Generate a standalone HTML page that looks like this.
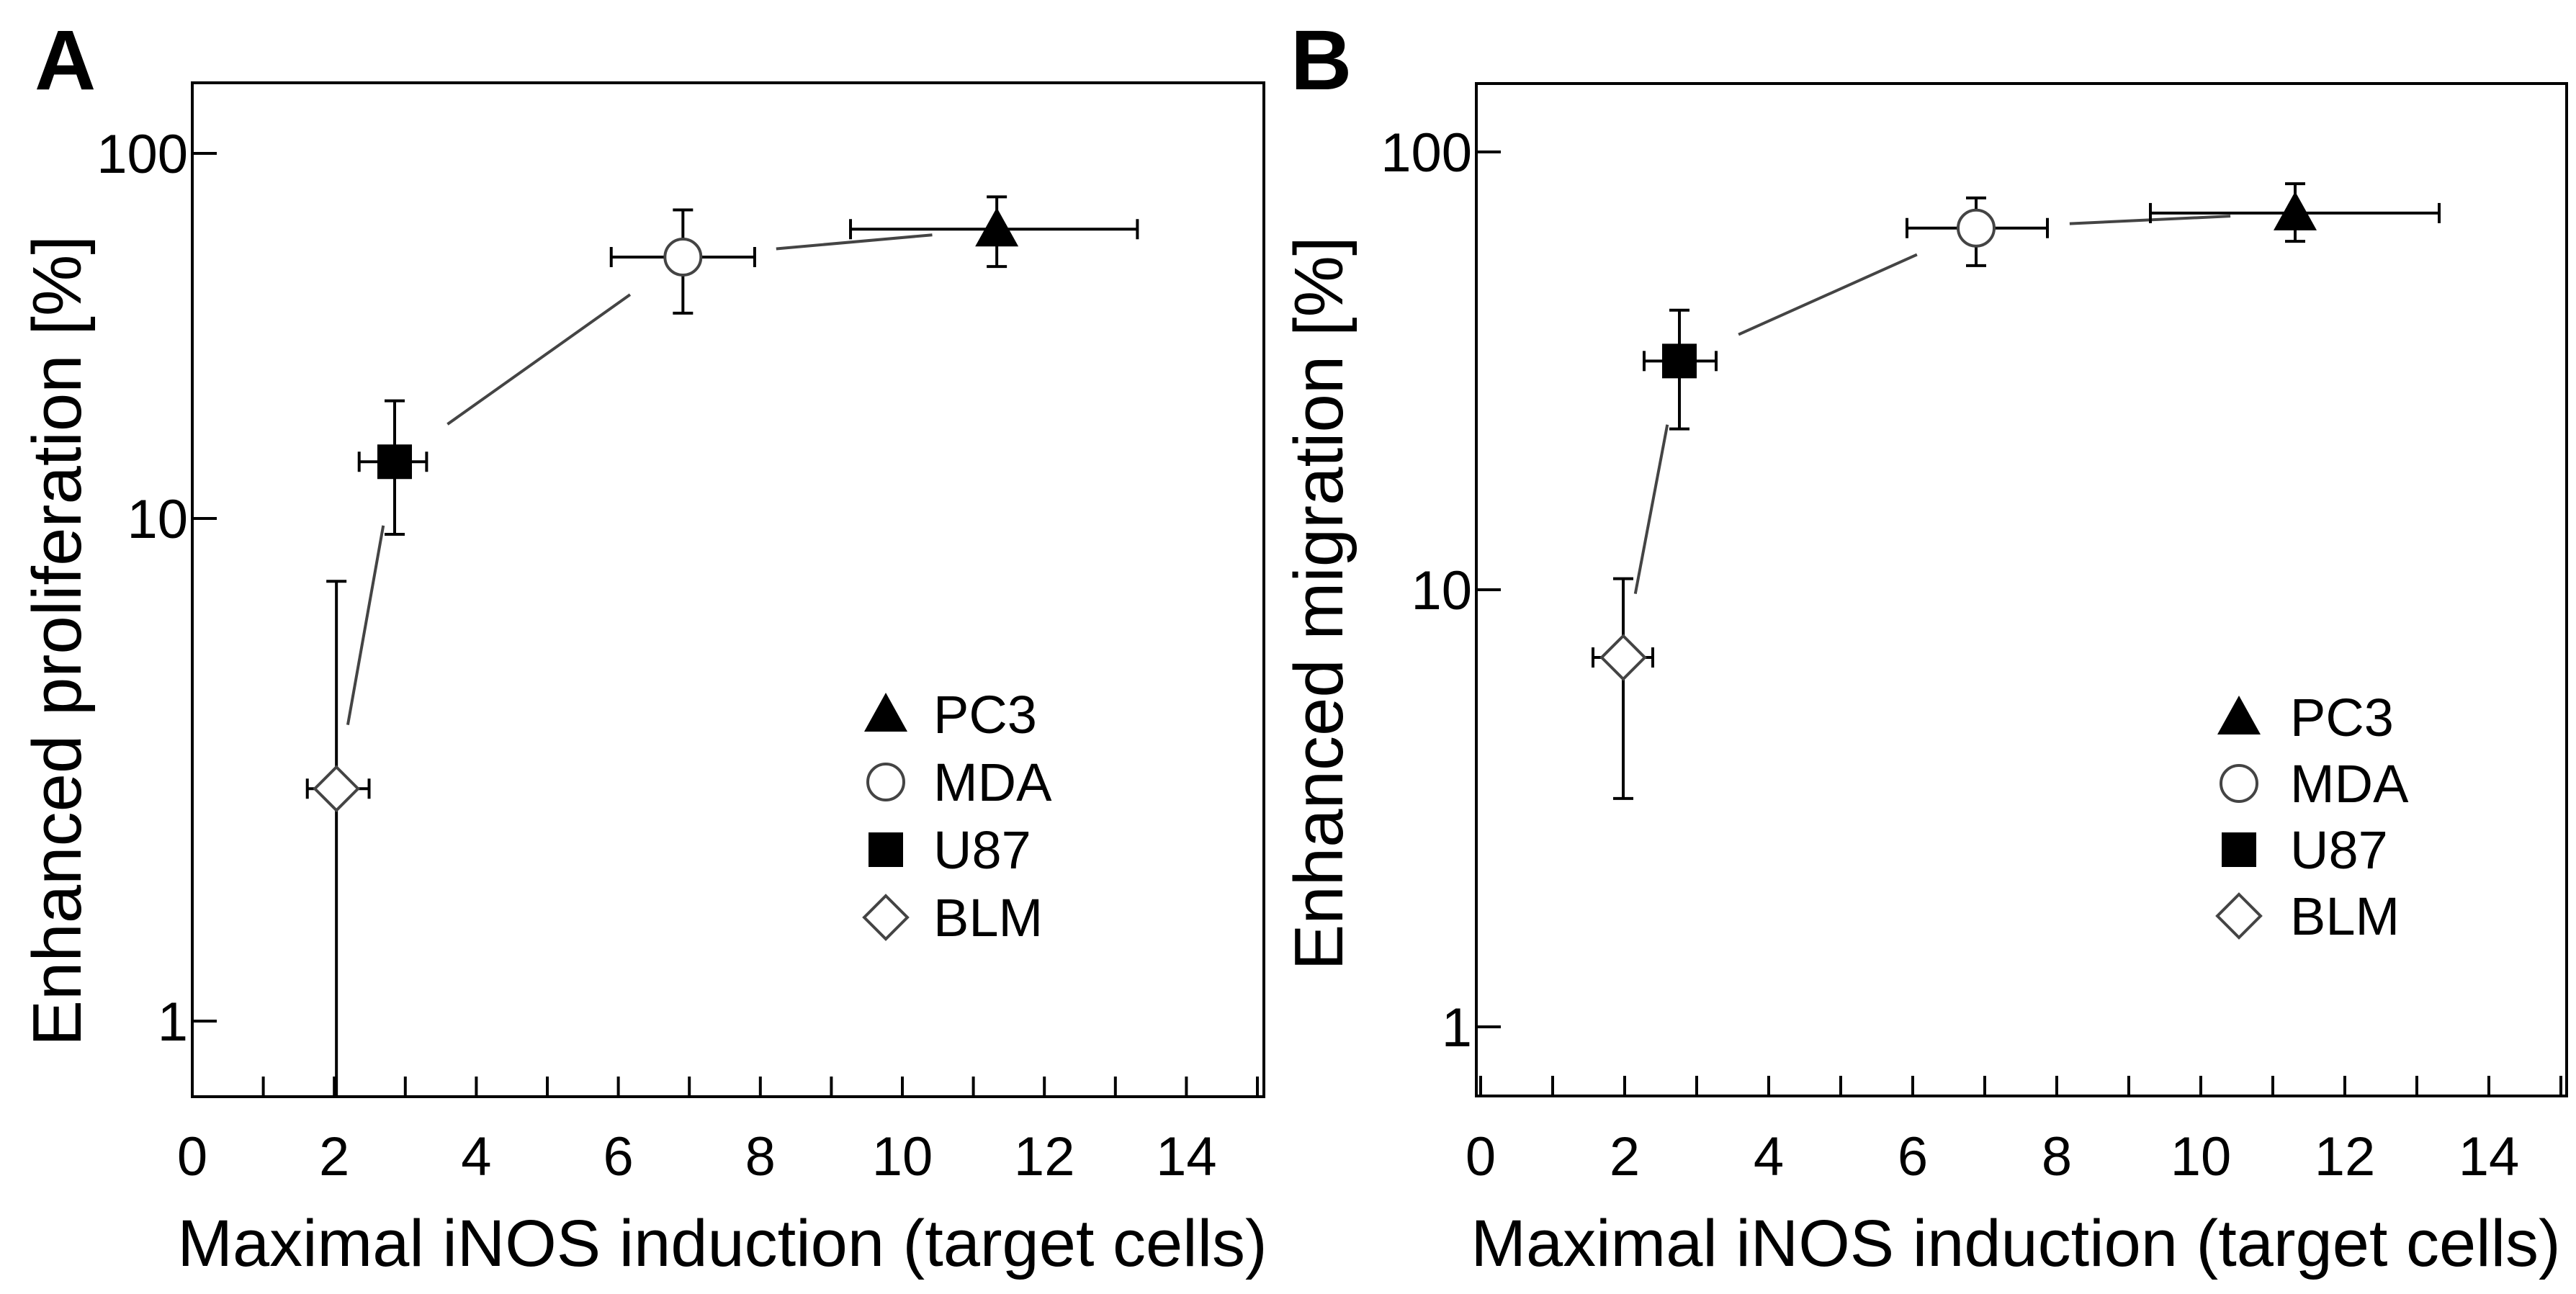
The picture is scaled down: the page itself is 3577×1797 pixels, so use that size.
<!DOCTYPE html>
<html><head><meta charset="utf-8"><style>
html,body{margin:0;padding:0;background:#fff;}
svg{display:block;font-family:"Liberation Sans",Arial,sans-serif;}
</style></head><body>
<svg id="fig" width="3577" height="1797" viewBox="0 0 3577 1797"></svg>
<script>
// ---- data ----
const cellLines = ["PC3","MDA","U87","BLM"];
const xTicks = [0,2,4,6,8,10,12,14];
const yTicks = [1,10,100];
// Panel A: proliferation
const aX = [11.33, 6.91, 2.85, 2.03];
const aXlo = [9.27, 5.9, 2.35, 1.62];
const aXhi = [13.31, 7.92, 3.3, 2.49];
const aY = [62, 52, 14.3, 2.9];
const aYlo = [49, 36.5, 9.3, 0.5];
const aYhi = [76, 70, 21, 7.5];
// Panel B: migration
const bX = [11.31, 6.88, 2.76, 1.98];
const bXlo = [9.3, 5.92, 2.27, 1.56];
const bXhi = [13.31, 7.87, 3.27, 2.39];
const bY = [72.5, 67, 33.3, 7.0];
const bYlo = [62.5, 55, 23.3, 3.33];
const bYhi = [84.6, 78.5, 43.5, 10.6];

const NS="http://www.w3.org/2000/svg";
const svg=document.getElementById('fig');
function mk(tag,attrs,parent){const e=document.createElementNS(NS,tag);for(const k in attrs)e.setAttribute(k,attrs[k]);(parent||svg).appendChild(e);return e;}

function panel(cfg){
  const g=mk('g',{});
  
  
  const L=cfg.left,R=cfg.right,T=cfg.top,B=cfg.bottom;
  const xs=v=>cfg.x0+v*cfg.xu;
  const anch=cfg.anchors;
  const ys=v=>{const l=Math.log10(v);
    if(l<=1) return anch[0]+(anch[1]-anch[0])*l;
    return anch[1]+(anch[2]-anch[1])*(l-1);};
  const yc=v=>Math.min(B,Math.max(T,ys(v)));
  const box=mk('rect',{x:L,y:T,width:R-L,height:B-T,fill:'none',stroke:'#000','stroke-width':4},g);
  
  
  for(let i=0;i<=15;i++){const t=mk('line',{x1:xs(i),x2:xs(i),y1:B,y2:B-28,stroke:'#000','stroke-width':4},g);
    
    }
  xTicks.forEach(v=>{const t=mk('text',{x:xs(v),y:1632,'text-anchor':'middle','font-size':76,fill:'#000'},g);t.textContent=v;
    
    });
  yTicks.forEach(v=>{const y=ys(v);
    const t=mk('line',{x1:L,x2:L+34,y1:y,y2:y,stroke:'#000','stroke-width':4},g);
    
    
    const l=mk('text',{x:L-6,y:y+27,'text-anchor':'end','font-size':76,fill:'#000'},g);l.textContent=v;
    
    });
  const xt=mk('text',{x:(L+R)/2-8,y:1758,'text-anchor':'middle','font-size':92,fill:'#000'},g);xt.textContent='Maximal iNOS induction (target cells)';
  
  
  const yt=mk('text',{x:0,y:0,'text-anchor':'middle','font-size':96,fill:'#000',transform:`translate(${cfg.ytx},${cfg.yty}) rotate(-90)`},g);yt.textContent=cfg.ytitle;
  
  
  const pl=mk('text',{x:cfg.letterX,y:124,'font-size':118,'font-weight':'bold',fill:'#000'},g);pl.textContent=cfg.letter;
  
  
  const X=cfg.X,Y=cfg.Y;
  for(let i=0;i<X.length-1;i++){
    const x1=xs(X[i]),y1=ys(Y[i]),x2=xs(X[i+1]),y2=ys(Y[i+1]);
    const d=Math.hypot(x2-x1,y2-y1),ux=(x2-x1)/d,uy=(y2-y1)/d;
    const g1=Math.min(d*0.3,90),g2=Math.min(d*0.3,i==0?130:90);
    const s=mk('line',{x1:x1+ux*g1,y1:y1+uy*g1,x2:x2-ux*g2,y2:y2-uy*g2,stroke:'#444','stroke-width':4},g);
    
    
  }
  for(let i=0;i<X.length;i++){
    const cx=xs(X[i]),cy=ys(Y[i]);
    const eb=mk('g',{stroke:'#000','stroke-width':4},g);
    
    
    const x1=xs(cfg.Xlo[i]),x2=xs(cfg.Xhi[i]);
    mk('line',{x1:x1,x2:x2,y1:cy,y2:cy},eb);
    mk('line',{x1:x1,x2:x1,y1:cy-14,y2:cy+14},eb);
    mk('line',{x1:x2,x2:x2,y1:cy-14,y2:cy+14},eb);
    const ya=yc(cfg.Yhi[i]),yb=yc(cfg.Ylo[i]);
    mk('line',{x1:cx,x2:cx,y1:ya,y2:yb},eb);
    mk('line',{x1:cx-14,x2:cx+14,y1:ya,y2:ya},eb);
    if(yb<B) mk('line',{x1:cx-14,x2:cx+14,y1:yb,y2:yb},eb);
    const m=marker(i,cx,cy,g);
    
    
  }
  cellLines.forEach((n,i)=>{
    const y=cfg.legY+i*cfg.legDy;
    const m=marker(i,cfg.legMX,y,g);
    
    
    const t=mk('text',{x:cfg.legTX,y:y+26,'font-size':74,fill:'#000'},g);t.textContent=n;
    
    
  });
}
function marker(i,cx,cy,g){
  if(i==0) return mk('polygon',{points:`${cx},${cy-30} ${cx-30},${cy+24} ${cx+30},${cy+24}`,fill:'#000'},g);
  if(i==1) return mk('circle',{cx:cx,cy:cy,r:25,fill:'#fff',stroke:'#444','stroke-width':4},g);
  if(i==2) return mk('rect',{x:cx-24,y:cy-24,width:48,height:48,fill:'#000'},g);
  return mk('polygon',{points:`${cx},${cy-30} ${cx+30},${cy} ${cx},${cy+30} ${cx-30},${cy}`,fill:'#fff',stroke:'#444','stroke-width':4},g);
}
panel({name:'panel-a-proliferation',left:267,right:1755,top:115,bottom:1523,x0:267,xu:98.6,
  anchors:[1418,720,213],X:aX,Xlo:aXlo,Xhi:aXhi,Y:aY,Ylo:aYlo,Yhi:aYhi,
  ytitle:'Enhanced proliferation [%]',ytx:112,yty:890,letter:'A',letterX:48,
  legMX:1230,legTX:1296,legY:992,legDy:94});
panel({name:'panel-b-migration',left:2050,right:3564,top:116,bottom:1522,x0:2056,xu:100,
  anchors:[1426,819,211],X:bX,Xlo:bXlo,Xhi:bXhi,Y:bY,Ylo:bYlo,Yhi:bYhi,
  ytitle:'Enhanced migration [%]',ytx:1864,yty:838,letter:'B',letterX:1792,
  legMX:3109,legTX:3180,legY:996,legDy:92});
</script>
</body></html>
